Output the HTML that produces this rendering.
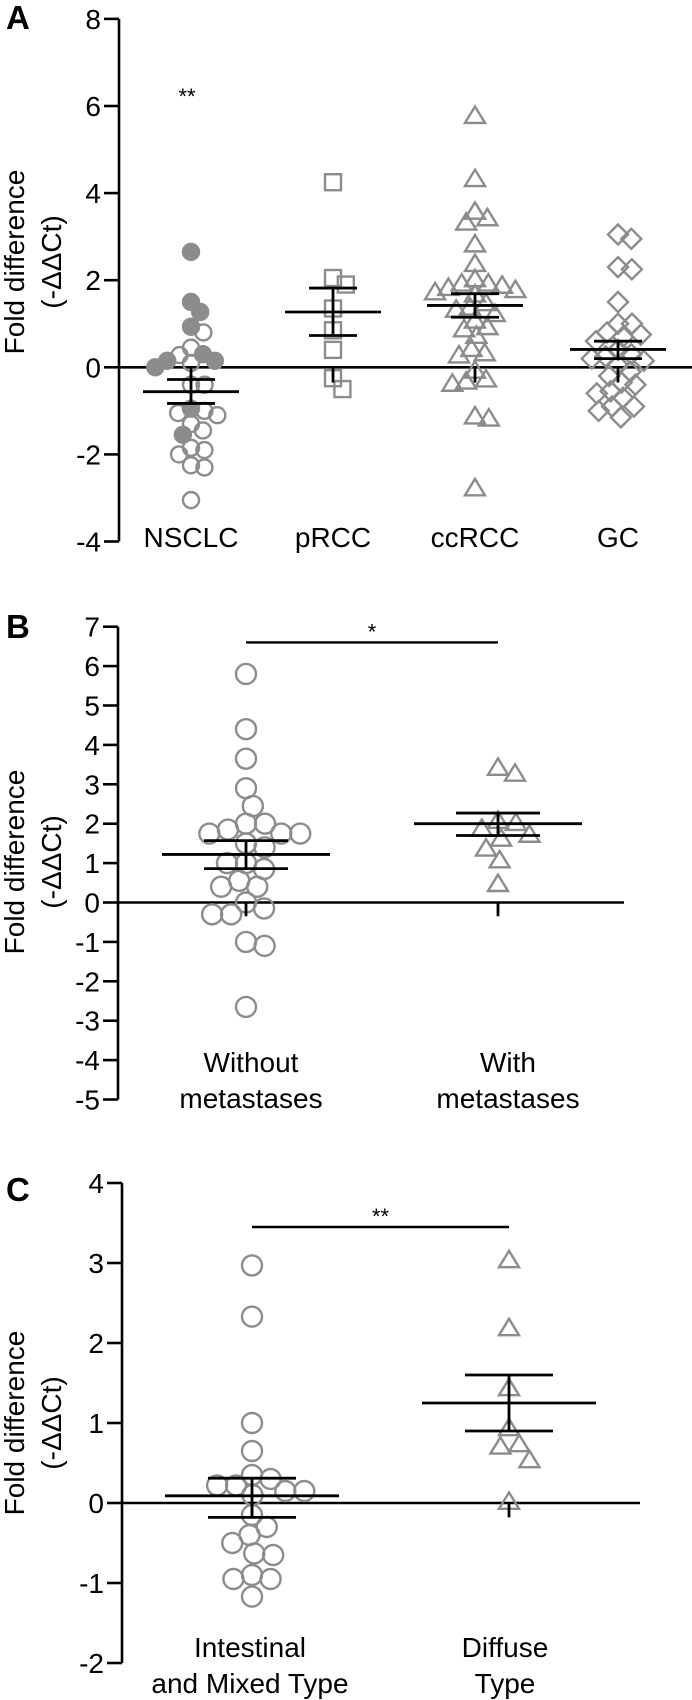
<!DOCTYPE html>
<html><head><meta charset="utf-8"><style>
html,body{margin:0;padding:0;background:#fff;}
svg{display:block;font-family:"Liberation Sans",Arial,sans-serif;}
</style></head><body>
<svg id="fig" width="692" height="1700" viewBox="0 0 692 1700" xmlns="http://www.w3.org/2000/svg">
<rect width="692" height="1700" fill="#fff"/>
<text x="6" y="29" font-size="33" font-weight="bold">A</text>
<text x="6" y="638" font-size="33" font-weight="bold">B</text>
<text x="6" y="1201" font-size="33" font-weight="bold">C</text>
<g font-size="28" text-anchor="middle">
<text transform="translate(24,262) rotate(-90)">Fold difference</text>
<text transform="translate(61,262) rotate(-90)">(-ΔΔCt)</text>
<text transform="translate(24,862) rotate(-90)">Fold difference</text>
<text transform="translate(61,862) rotate(-90)">(-ΔΔCt)</text>
<text transform="translate(24,1423) rotate(-90)">Fold difference</text>
<text transform="translate(61,1423) rotate(-90)">(-ΔΔCt)</text>
</g>
<text x="187" y="104" font-size="22" text-anchor="middle">**</text>
</svg>
<script>
// ---- Panel A data ----
const aCategories = ['NSCLC','pRCC','ccRCC','GC'];
const aTicks = [8,6,4,2,0,-2,-4];
const aNsclcFilled = [2.65,1.5,1.27,0.93,0.3,0.15,0.15,0.0,-0.95,-1.55];
const aNsclcOpen = [0.8,0.45,0.28,0.1,-0.4,-0.4,-1.0,-1.05,-1.1,-1.3,-1.45,-1.85,-1.9,-2.0,-2.25,-2.3,-3.05];
const aPrcc = [4.25,2.05,1.9,1.35,0.85,0.4,-0.25,-0.5];
const aCcrcc = [5.8,4.35,3.6,3.45,3.35,2.85,2.4,2.05,1.95,1.95,1.9,1.85,1.8,1.75,1.7,1.5,1.4,1.35,1.25,1.1,0.95,0.9,0.75,0.45,0.35,0.3,-0.05,-0.25,-0.3,-0.35,-1.1,-1.15,-2.75];
const aGc = [3.05,2.95,2.3,2.25,1.5,1.0,1.0,0.8,0.75,0.7,0.6,0.4,0.3,0.25,0.2,0.15,0.05,-0.1,-0.2,-0.35,-0.4,-0.55,-0.6,-0.7,-0.9,-0.9,-1.0,-1.15];
const aMeans = [-0.56,1.27,1.42,0.41];
const aSemHi = [-0.28,1.82,1.69,0.60];
const aSemLo = [-0.83,0.73,1.15,0.20];
const aStemLo = [-0.35,-0.35,-0.35,-0.35];
// ---- Panel B data ----
const bCategories = [['Without','metastases'],['With','metastases']];
const bTicks = [7,6,5,4,3,2,1,0,-1,-2,-3,-4,-5];
const bWithout = [5.8,4.4,3.65,2.9,2.45,2.0,2.0,1.85,1.75,1.75,1.75,1.5,1.4,1.0,1.0,0.85,0.55,0.4,0.4,0.0,-0.15,-0.3,-0.3,-1.0,-1.1,-2.65];
const bWith = [3.45,3.3,2.1,2.05,1.9,1.75,1.65,1.4,1.1,0.5];
const bMeans = [1.22,2.0];
const bSemHi = [1.57,2.27];
const bSemLo = [0.86,1.7];
const bStemLo = [-0.35,-0.35];
const bSigValue = 6.6;
// ---- Panel C data ----
const cCategories = [['Intestinal','and Mixed Type'],['Diffuse','Type']];
const cTicks = [4,3,2,1,0,-1,-2];
const cIntestinal = [2.97,2.33,1.0,0.65,0.35,0.3,0.22,0.22,0.15,0.15,0.1,-0.15,-0.3,-0.4,-0.5,-0.63,-0.65,-0.9,-0.95,-0.95,-1.17];
const cDiffuse = [3.05,2.2,1.45,0.95,0.75,0.72,0.55,0.03];
const cMeans = [0.09,1.25];
const cSemHi = [0.31,1.6];
const cSemLo = [-0.18,0.9];
const cStemLo = [-0.18,-0.18];
const cSigValue = 3.45;

const NS='http://www.w3.org/2000/svg';
const svg=document.getElementById('fig');
const GRAY='#8c8c8c';
function mk(tag,attrs,parent){const e=document.createElementNS(NS,tag);for(const k in attrs)e.setAttribute(k,attrs[k]);(parent||svg).appendChild(e);return e;}

function swarm(values,yf,d){
  const pts=values.map((v,i)=>({v,i,y:yf(v)})).sort((a,b)=>b.v-a.v);
  const placed=[];const off=new Array(values.length).fill(0);
  for(const p of pts){
    const cands=[0];
    for(const q of placed){const dy=Math.abs(q.y-p.y);if(dy<d){const dx=Math.sqrt(d*d-dy*dy);cands.push(q.x+dx,q.x-dx);}}
    cands.sort((a,b)=>Math.abs(a)-Math.abs(b));
    let best=0;
    for(const c of cands){let ok=true;for(const q of placed){const dx=q.x-c,dy=q.y-p.y;if(dx*dx+dy*dy<d*d-0.5){ok=false;break;}}if(ok){best=c;break;}}
    placed.push({x:best,y:p.y});off[p.i]=best;
  }
  return off;
}

function marker(shape,cx,cy,s,filled,g){
  const st={fill:filled?GRAY:'none',stroke:GRAY,'stroke-width':2.4};
  let e;
  if(shape==='circle'){e=mk('circle',Object.assign({cx,cy,r:s/2},st),g);}
  else if(shape==='square'){e=mk('rect',Object.assign({x:cx-s/2,y:cy-s/2,width:s,height:s},st),g);}
  else if(shape==='triangle'){const h=s*0.82;e=mk('polygon',Object.assign({points:`${cx},${cy-h/2} ${cx+s/2},${cy+h/2} ${cx-s/2},${cy+h/2}`},st),g);}
  else {const r=s/2;e=mk('polygon',Object.assign({points:`${cx},${cy-r} ${cx+r},${cy} ${cx},${cy+r} ${cx-r},${cy}`},st),g);}
  return e;
}

function axis(p){
  const g=mk('g',{});
  
  
  const ys=p.ticks.map(p.y);
  mk('line',{x1:p.ax,x2:p.ax,y1:Math.min(...ys),y2:Math.max(...ys),stroke:'#000','stroke-width':2.6},g);
  p.ticks.forEach(t=>{
    mk('line',{x1:p.ax-15,x2:p.ax,y1:p.y(t),y2:p.y(t),stroke:'#000','stroke-width':2.6},g);
    const tx=mk('text',{x:p.ax-18,y:p.y(t)+10,'font-size':28,'text-anchor':'end'},g);
    
    
    tx.textContent=String(t);
  });
  const z=mk('line',{x1:p.ax,x2:p.zeroEnd,y1:p.y(0),y2:p.y(0),stroke:'#000','stroke-width':2.6});
  
  
}

function errbar(p,i,cx,mean,hi,lo,stem){
  const g=mk('g',{stroke:'#000','stroke-width':2.8});
  
  
  mk('line',{x1:cx-p.mw,x2:cx+p.mw,y1:p.y(mean),y2:p.y(mean)},g);
  mk('line',{x1:cx-p.sw,x2:cx+p.sw,y1:p.y(hi),y2:p.y(hi)},g);
  mk('line',{x1:cx-p.sw,x2:cx+p.sw,y1:p.y(lo),y2:p.y(lo)},g);
  mk('line',{x1:cx,x2:cx,y1:p.y(hi),y2:p.y(lo)},g);
  mk('line',{x1:cx,x2:cx,y1:p.y(0),y2:p.y(stem)},g);
}

function series(p,cx,groups,shape,size,label,spread){
  const all=[];groups.forEach(gr=>gr.vals.forEach(v=>all.push({v,filled:gr.filled})));
  const offs=swarm(all.map(a=>a.v),p.y,size*spread);
  const g=mk('g',{});
  
  
  all.forEach((a,i)=>{
    const m=marker(shape,cx+offs[i],p.y(a.v),size,a.filled,g);
    
    
  });
}

function catLabel(name,x,y,lines){
  lines.forEach((t,k)=>{
    const e=mk('text',{x,y:y+k*36,'font-size':28,'text-anchor':'middle'});
    
    
    e.textContent=t;
  });
}

// Panel A
const pA={name:'panel-a',ax:119,zeroEnd:692,y:v=>367.3-v*43.55,ticks:aTicks,mw:48,sw:24};
const aCenters=[191,333,475,618];
axis(pA);
series(pA,aCenters[0],[{vals:aNsclcFilled,filled:true},{vals:aNsclcOpen,filled:false}],'circle',16,'nsclc',0.85);
series(pA,aCenters[1],[{vals:aPrcc,filled:false}],'square',16,'prcc',0.9);
series(pA,aCenters[2],[{vals:aCcrcc,filled:false}],'triangle',20,'ccrcc',0.7);
series(pA,aCenters[3],[{vals:aGc,filled:false}],'diamond',20,'gc',0.7);
aCategories.forEach((c,i)=>{errbar(pA,i,aCenters[i],aMeans[i],aSemHi[i],aSemLo[i],aStemLo[i]);catLabel('x-label-'+c.toLowerCase(),aCenters[i],547,[c]);});

// Panel B
const pB={name:'panel-b',ax:118,zeroEnd:624,y:v=>902.5-v*39.4,ticks:bTicks,mw:84,sw:42};
const bCenters=[246,498];
axis(pB);
series(pB,bCenters[0],[{vals:bWithout,filled:false}],'circle',20,'without-metastases',0.95);
series(pB,bCenters[1],[{vals:bWith,filled:false}],'triangle',20,'with-metastases',0.9);
bCategories.forEach((c,i)=>{errbar(pB,i,bCenters[i],bMeans[i],bSemHi[i],bSemLo[i],bStemLo[i]);catLabel('x-label-'+c[0].toLowerCase(),[251,508][i],1072,c);});
const sb=mk('line',{x1:bCenters[0],x2:bCenters[1],y1:pB.y(bSigValue),y2:pB.y(bSigValue),stroke:'#000','stroke-width':2.4});


const sbt=mk('text',{x:(bCenters[0]+bCenters[1])/2,y:pB.y(bSigValue)-3,'font-size':22,'text-anchor':'middle'});


sbt.textContent='*';

// Panel C
const pC={name:'panel-c',ax:122,zeroEnd:640,y:v=>1503-v*80,ticks:cTicks,mw:87,sw:44};
const cCenters=[252,509];
axis(pC);
series(pC,cCenters[0],[{vals:cIntestinal,filled:false}],'circle',20,'intestinal',0.95);
series(pC,cCenters[1],[{vals:cDiffuse,filled:false}],'triangle',20,'diffuse',0.95);
cCategories.forEach((c,i)=>{errbar(pC,i,cCenters[i],cMeans[i],cSemHi[i],cSemLo[i],cStemLo[i]);catLabel('x-label-'+c[0].toLowerCase(),[250,505][i],1657,c);});
const sc=mk('line',{x1:cCenters[0],x2:cCenters[1],y1:pC.y(cSigValue),y2:pC.y(cSigValue),stroke:'#000','stroke-width':2.4});


const sct=mk('text',{x:(cCenters[0]+cCenters[1])/2,y:pC.y(cSigValue)-3,'font-size':22,'text-anchor':'middle'});


sct.textContent='**';
</script>
</body></html>
